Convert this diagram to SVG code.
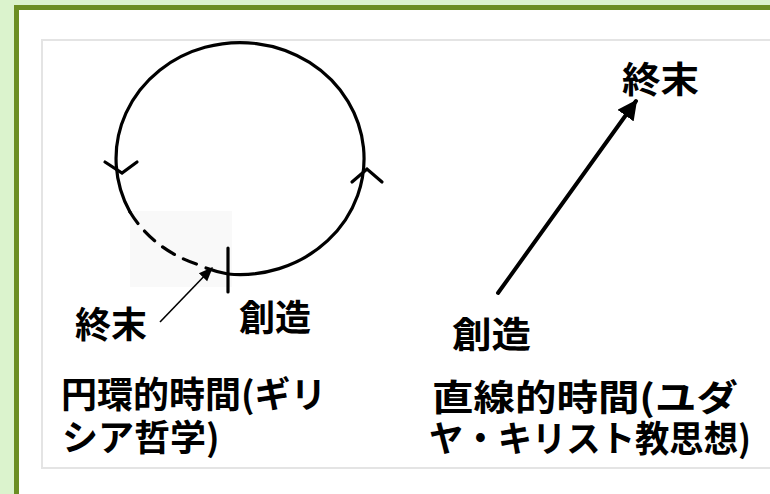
<svg xmlns="http://www.w3.org/2000/svg" width="770" height="494" viewBox="0 0 770 494">
<style>
.t{font-family:"Noto Sans CJK JP","Noto Sans CJK SC",sans-serif;font-size:36px;font-weight:bold;fill:#000}
.ln{fill:none;stroke:#000;stroke-width:3.2;stroke-linecap:round}
</style>
<defs>
<marker id="ah" viewBox="0 0 10 10" refX="9" refY="5" markerWidth="5" markerHeight="5" orient="auto" markerUnits="strokeWidth">
<path d="M0,0 L10,5 L0,10 z" fill="#000"/>
</marker>
<marker id="ahs" viewBox="0 0 10 10" refX="9" refY="5" markerWidth="9" markerHeight="9" orient="auto" markerUnits="strokeWidth">
<path d="M0,1 L10,5 L0,9 z" fill="#000"/>
</marker>
</defs>
<rect width="770" height="494" fill="#dbf3cd"/>
<rect x="16.5" y="7.5" width="770" height="500" fill="#fff" stroke="#6b8e23" stroke-width="5"/>
<rect x="42" y="40" width="740" height="428" fill="#fff" stroke="#e4e4e4" stroke-width="2"/>
<rect x="130" y="211" width="102" height="76" fill="#f9f9f9"/>

<g id="cycle">
<path class="ln" d="M228 274 A124 116 0 1 0 130 212"/>
<path class="ln" d="M130 212 A124 116 0 0 0 203 266" stroke-dasharray="14 10" stroke-linecap="butt"/>
<path class="ln" d="M206 268 A124 116 0 0 0 228 274"/>
<polyline class="ln" points="105,162 122,173 137,162"/>
<polyline class="ln" points="352,182 367,169 382,182"/>
<line class="ln" x1="228" y1="248" x2="228" y2="292"/>
</g>

<g id="connectors">
<line x1="160" y1="322" x2="212" y2="268" stroke="#000" stroke-width="1.6" marker-end="url(#ahs)"/>
<line x1="498" y1="293" x2="636" y2="101" stroke="#000" stroke-width="4" stroke-linecap="round" marker-end="url(#ah)"/>
</g>

<g id="label-end-left"><text class="t" x="75" y="338">終末</text></g>
<g id="label-start-left"><text class="t" x="239" y="331">創造</text></g>
<g id="label-cyclic"><text class="t" x="61" y="408">円環的時間(ギリ</text>
<text class="t" x="62" y="451">シア哲学)</text></g>
<g id="label-end-right"><text class="t" x="622" y="93" textLength="77" lengthAdjust="spacingAndGlyphs">終末</text></g>
<g id="label-start-right"><text class="t" x="452" y="348" textLength="79" lengthAdjust="spacingAndGlyphs">創造</text></g>
<g id="label-linear"><text class="t" x="432" y="411" textLength="306" lengthAdjust="spacingAndGlyphs">直線的時間(ユダ</text>
<text class="t" x="429" y="452" textLength="322" lengthAdjust="spacingAndGlyphs">ヤ・キリスト教思想)</text></g>
</svg>
